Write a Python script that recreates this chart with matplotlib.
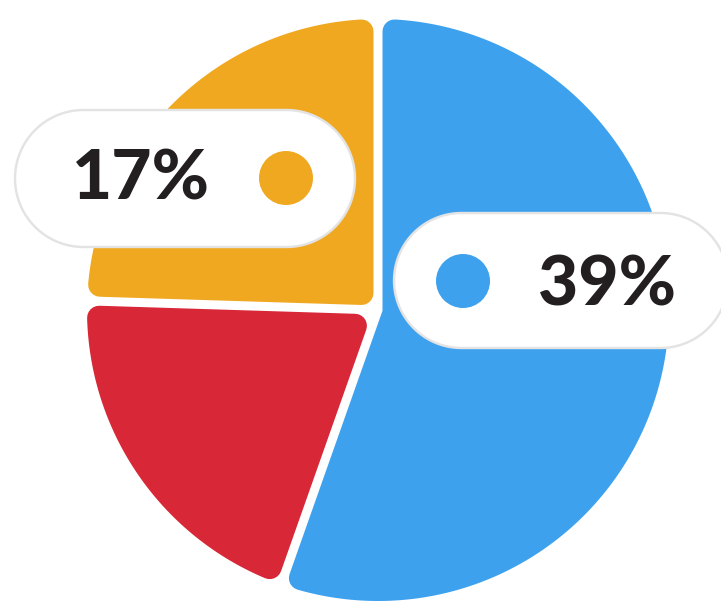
import numpy as np
import matplotlib
matplotlib.use("Agg")
import matplotlib.pyplot as plt
from matplotlib.patches import Polygon, Circle

# slice shares (clockwise from 12 o'clock)
names = ["blue", "red", "orange"]
shares = [55.4, 20.1, 24.5]
colors = ["#3DA1EE", "#D82838", "#F0A820"]

# pill labels
label_text = ["17%", "39%"]
label_color = ["#F0A820", "#3DA1EE"]

W, H = 721, 605
cx, cy, R = 378, 310, 291
gap = 9.0        # white gap between slices (px)
rr = 12.0        # corner rounding (px)
px2pt = 72 / 100.

fig = plt.figure(figsize=(W / 100, H / 100), dpi=100)
ax = fig.add_axes([0, 0, 1, 1])
ax.set_xlim(0, W)
ax.set_ylim(H, 0)
ax.axis("off")


def inset_wedge(t1, t2, D):
    # wedge t1..t2 (deg, math orientation), straight sides pulled in by D,
    # arc pulled in by rr only
    phi = np.radians(t2 - t1)
    mid = np.radians((t1 + t2) / 2)
    a = D / np.sin(phi / 2)
    apex = (a * np.cos(mid), a * np.sin(mid))
    Ra = R - rr
    da = np.degrees(np.arcsin(D / Ra))
    th = np.radians(np.linspace(t1 + da, t2 - da, 200))
    pts = [apex] + list(zip(Ra * np.cos(th), Ra * np.sin(th)))
    pts = np.array(pts)
    return np.column_stack([cx + pts[:, 0], cy - pts[:, 1]])


def pill(x0, y0, w, h):
    r = h / 2
    t = np.linspace(-np.pi / 2, np.pi / 2, 60)
    right = np.column_stack([x0 + w - r + r * np.cos(t), y0 + r + r * np.sin(t)])
    left = np.column_stack([x0 + r - r * np.cos(t), y0 + r - r * np.sin(t)])
    return np.vstack([right, left])


angles = 90 - np.concatenate([[0], np.cumsum(shares)]) / sum(shares) * 360
D = gap / 2 + rr
for i in range(len(shares)):
    t2, t1 = angles[i], angles[i + 1]
    poly = Polygon(inset_wedge(t1, t2, D), closed=True, facecolor=colors[i],
                   edgecolor=colors[i], linewidth=2 * rr * px2pt,
                   joinstyle="round", zorder=1)
    ax.add_patch(poly)

# pills
pills = [(15, 110, 340, 137), (394, 213, 334, 135)]
dots = [(286, 178), (463, 281)]
text_pos = [(141, 200), (607, 305)]
for i in range(2):
    ax.add_patch(Polygon(pill(*pills[i]), closed=True, facecolor="white",
                         edgecolor="#E3E3E3", linewidth=2.4 * px2pt, zorder=3))
    ax.add_patch(Circle(dots[i], 27, facecolor=label_color[i],
                        edgecolor="none", zorder=4))
    ax.text(text_pos[i][0], text_pos[i][1], label_text[i], ha="center",
            va="baseline", fontsize=50, fontweight="black", family="Lato",
            color="#231F20", zorder=5)

fig.savefig("out.png", dpi=100)
